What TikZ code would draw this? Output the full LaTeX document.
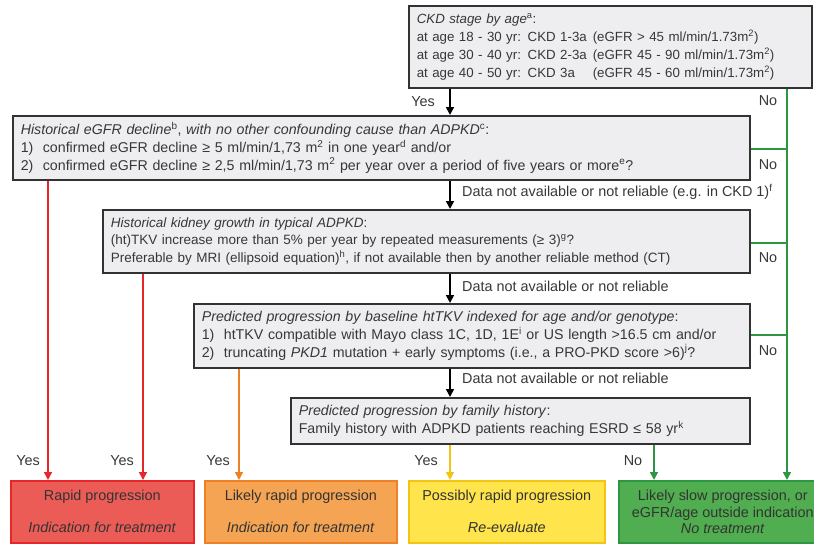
\documentclass[tikz,border=0pt]{standalone}
\usepackage{fontspec}
\setmainfont{Liberation Sans}
\usetikzlibrary{arrows.meta}

\definecolor{qfill}{RGB}{238,238,240}
\definecolor{qdraw}{RGB}{50,50,50}
\definecolor{txt}{RGB}{55,55,55}
\definecolor{redfill}{RGB}{236,92,87}
\definecolor{redline}{RGB}{230,38,42}
\definecolor{orfill}{RGB}{245,164,84}
\definecolor{orline}{RGB}{240,128,36}
\definecolor{yefill}{RGB}{255,228,76}
\definecolor{yeline}{RGB}{242,196,20}
\definecolor{grfill}{RGB}{80,174,80}
\definecolor{grline}{RGB}{44,150,64}

\tikzset{
	question/.style={draw=qdraw, line width=1.6pt, fill=qfill, anchor=north west, align=left, inner xsep=7pt, inner ysep=0pt, text=txt, font=\fontsize{14.2}{17.6}\selectfont},
	outcome/.style={line width=1.6pt, anchor=north west, align=center, inner sep=0pt, text=black!80, minimum height=62pt, font=\fontsize{14.4}{17.5}\selectfont},
	lbl/.style={text=txt, inner sep=1pt, font=\fontsize{14.4}{16}\selectfont},
	flow/.style={line width=1.6pt, -{Triangle[length=8pt,width=8pt]}},
}

\begin{document}
\begin{tikzpicture}[x=1pt, y=-1pt]
			%%%%% START %%%%%
			\useasboundingbox (0, 0) rectangle (814, 546);
			
			\coordinate (spine) at (450, 0);
			\coordinate (nocol) at (787, 0);
			\coordinate (redA) at (48, 0);
			\coordinate (redB) at (143, 0);
			\coordinate (orng) at (239, 0);
			\coordinate (grnB) at (654, 0);
			
			% questions
			\node[question, minimum width=403pt, minimum height=82pt, text width=387pt, font=\fontsize{13.3}{18}\selectfont] (ckd) at (408, 5) {\textit{CKD stage by age}\textsuperscript{a}:\\
				\makebox[176pt][l]{at age 18 - 30 yr: CKD 1-3a}(eGFR > 45 ml/min/1.73m\textsuperscript{2})\\
				\makebox[176pt][l]{at age 30 - 40 yr: CKD 2-3a}(eGFR 45 - 90 ml/min/1.73m\textsuperscript{2})\\
				\makebox[176pt][l]{at age 40 - 50 yr: CKD 3a}(eGFR 45 - 60 ml/min/1.73m\textsuperscript{2})};
			\node[question, minimum width=737pt, minimum height=64pt, text width=721pt] (egfr) at (12, 115) {\textit{Historical eGFR decline}\textsuperscript{b}, \textit{with no other confounding cause than ADPKD}\textsuperscript{c}:\\
				1)\ \ confirmed eGFR decline ≥ 5 ml/min/1,73 m\textsuperscript{2} in one year\textsuperscript{d} and/or\\
				2)\ \ confirmed eGFR decline ≥ 2,5 ml/min/1,73 m\textsuperscript{2} per year over a period of five years or more\textsuperscript{e}?};
			\node[question, minimum width=647pt, minimum height=63pt, text width=631pt, font=\fontsize{13.5}{17.6}\selectfont] (growth) at (102, 209) {\textit{Historical kidney growth in typical ADPKD}:\\
				(ht)TKV increase more than 5\% per year by repeated measurements (≥ 3)\textsuperscript{g}?\\
				Preferable by MRI (ellipsoid equation)\textsuperscript{h}, if not available then by another reliable method (CT)};
			\node[question, minimum width=556pt, minimum height=64pt, text width=540pt] (htkv) at (193, 303) {\textit{Predicted progression by baseline htTKV indexed for age and/or genotype}:\\
				1)\ \ htTKV compatible with Mayo class 1C, 1D, 1E\textsuperscript{i} or US length >16.5 cm and/or\\
				2)\ \ truncating \textit{PKD1} mutation + early symptoms (i.e., a PRO-PKD score >6)\textsuperscript{j}?};
			\node[question, minimum width=459pt, minimum height=46pt, text width=443pt] (family) at (290, 397) {\textit{Predicted progression by family history}:\\
				Family history with ADPKD patients reaching ESRD ≤ 58 yr\textsuperscript{k}};
			
			% outcomes
			\node[outcome, draw=redline, fill=redfill, minimum width=183pt] (rapid) at (10, 480) {Rapid progression\\[14.5pt]\textit{Indication for treatment}};
			\node[outcome, draw=orline, fill=orfill, minimum width=192pt] (likely) at (204, 480) {Likely rapid progression\\[14.5pt]\textit{Indication for treatment}};
			\node[outcome, draw=yeline, fill=yefill, minimum width=196pt] (possibly) at (408, 480) {Possibly rapid progression\\[14.5pt]\textit{Re-evaluate}};
			\node[outcome, draw=grline, fill=grfill, minimum width=208pt] (slow) at (618, 480) {Likely slow progression, or\\eGFR/age outside indication\\[-1.5pt]\textit{No treatment}};
			
			% main line
			\draw[flow] (ckd.south -| spine) -- (egfr.north -| spine);
			\draw[flow] (egfr.south -| spine) -- (growth.north -| spine);
			\draw[flow] (growth.south -| spine) -- (htkv.north -| spine);
			\draw[flow] (htkv.south -| spine) -- (family.north -| spine);
			
			% yes branches
			\draw[flow, color=redline] (egfr.south -| redA) -- (rapid.north -| redA);
			\draw[flow, color=redline] (growth.south -| redB) -- (rapid.north -| redB);
			\draw[flow, color=orline] (htkv.south -| orng) -- (likely.north -| orng);
			\draw[flow, color=yeline] (family.south -| spine) -- (possibly.north -| spine);
			
			% no branches
			\draw[flow, color=grline] (ckd.south -| nocol) -- (slow.north -| nocol);
			\draw[line width=1.6pt, color=grline] ([yshift=-1pt]egfr.east) -- ([yshift=-1pt]egfr.east -| nocol);
			\draw[line width=1.6pt, color=grline] ([yshift=-1.5pt]growth.east) -- ([yshift=-1.5pt]growth.east -| nocol);
			\draw[line width=1.6pt, color=grline] ([yshift=1pt]htkv.east) -- ([yshift=1pt]htkv.east -| nocol);
			\draw[flow, color=grline] (family.south -| grnB) -- (slow.north -| grnB);
			
			% labels
			\node[lbl] (yes0) at (423, 102) {Yes};
			\node[lbl] (no0) at (768, 101) {No};
			\node[lbl] (no1) at (768, 165) {No};
			\node[lbl] (no2) at (768, 258) {No};
			\node[lbl] (no3) at (768, 351) {No};
			\node[lbl, anchor=west] (na1) at (461, 192) {Data not available or not reliable (e.g. in CKD 1)\textsuperscript{f}};
			\node[lbl, anchor=west] (na2) at (461, 286) {Data not available or not reliable};
			\node[lbl, anchor=west] (na3) at (461, 378) {Data not available or not reliable};
			\node[lbl] (yesA) at (28, 461) {Yes};
			\node[lbl] (yesB) at (122, 461) {Yes};
			\node[lbl] (yesC) at (218, 461) {Yes};
			\node[lbl] (yesD) at (426, 461) {Yes};
			\node[lbl] (noD) at (633, 461) {No};
			
			%%%%% END %%%%%
\end{tikzpicture}
\end{document}
